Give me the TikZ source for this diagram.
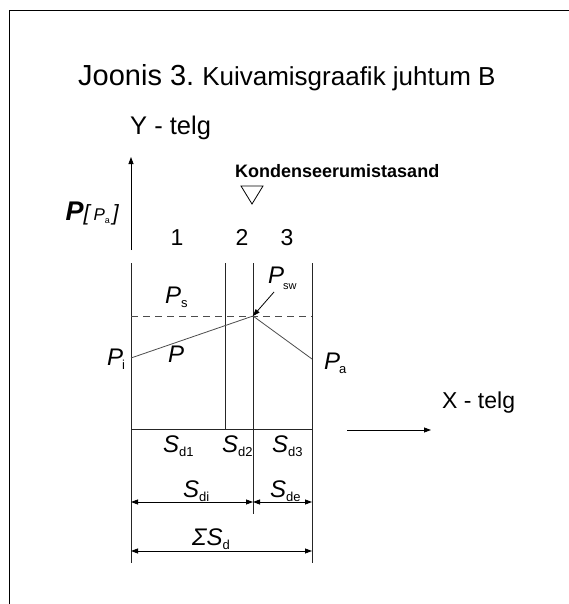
\documentclass[tikz,border=0pt]{standalone}
\usepackage{fontspec}
\setmainfont{Liberation Sans}
\usetikzlibrary{arrows.meta, positioning}
\newcommand\fsz[1]{\fontsize{#1}{#1}\selectfont}
\newcommand\lowidx[1]{\raisebox{-4.5pt}{\fsz{13}\upshape #1}}

\begin{document}
\begin{tikzpicture}[x=1pt, y=-1pt,
        wall/.style={line width=0.9pt, draw=black!85},
        thin/.style={line width=0.8pt, draw=black!70},
        arrow/.style={-{Triangle[length=7pt,width=5pt]}, line width=0.8pt},
        dim/.style={{Triangle[length=7pt,width=5pt]}-{Triangle[length=7pt,width=5pt]}, line width=0.8pt},
        lbl/.style={inner sep=0, anchor=base west},
        sym/.style={lbl, font=\fsz{24}\itshape},
        num/.style={inner sep=0, anchor=base, font=\fsz{23}}
    ]
        \useasboundingbox (0,0) rectangle (569,604);
        \draw[line width=1.4pt] (9.5,604) -- (9.5,10.5) -- (569,10.5);

        % texts
        \node[lbl] (title) at (78,86) {\fsz{29}Joonis 3.\hspace{8pt}\fsz{26}Kuivamisgraafik juhtum B};
        \node[lbl, font=\fsz{25.5}] (ytelg) at (130,135) {Y - telg};
        \node[lbl, font=\fsz{23}] (xtelg) at (442,408) {X - telg};
        \node[lbl, font=\fsz{18}\bfseries] (kond) at (235,177) {Kondenseerumistasand};
        \node[inner sep=0, anchor=base east, font=\itshape] (unit) at (119,220)
            {\fsz{27}\bfseries P\fsz{22}\mdseries[\,\fsz{17}P\raisebox{-3pt}{\fsz{9}\upshape a}\,\fsz{22}]};

        % axes and walls
        \coordinate (yb) at (131,250);
        \coordinate (yt) at (131,157);
        \coordinate (lt) at (131,263);
        \coordinate (lb) at (131,563);
        \coordinate (w2t) at (225,263);
        \coordinate (w2b) at (225,429);
        \coordinate (w3t) at (253,263);
        \coordinate (w3b) at (253,514);
        \coordinate (rt) at (312,263);
        \coordinate (rb) at (312,563);
        \coordinate (fl) at (131,429);
        \coordinate (fr) at (312,429);
        \coordinate (xa) at (347,430);
        \coordinate (xb) at (431,430);
        \draw[arrow] (yb) -- (yt);
        \draw[arrow] (xa) -- (xb);
        \draw[wall] (lt) -- (lb);
        \draw[wall] (w2t) -- (w2b);
        \draw[wall] (w3t) -- (w3b);
        \draw[wall] (rt) -- (rb);
        \draw[wall] (fl) -- (fr);

        % condensation plane mark
        \draw[line width=0.8pt] (241,186) -- (263,186) -- (252,204) -- cycle;

        \node[num] (n1) at (177,245) {1};
        \node[num] (n2) at (242,245) {2};
        \node[num] (n3) at (287,245) {3};

        % pressures
        \coordinate (sl) at (131,316);
        \coordinate (sr) at (312,316);
        \coordinate (pi) at (131,358);
        \coordinate (psw) at (253,316);
        \coordinate (pa) at (312,359);
        \draw[thin, dash pattern=on 7pt off 5pt] (sl) -- (sr);
        \draw[thin] (pi) -- (psw) -- (pa);

        \node[sym] (ps) at (165,303) {P\lowidx{s}};
        \node[sym] (p) at (168,362) {P};
        \node[sym] (pilbl) at (107,365) {P\kern-1pt\lowidx{i}};
        \node[sym] (palbl) at (324,369) {P\kern-1pt\lowidx{a}};
        \node[sym] (pswlbl) at (268,283) {P\kern-1pt\raisebox{-6pt}{\fsz{11}\upshape sw}};
        \coordinate (pswtail) at (274,292);
        \draw[arrow] (pswtail) -- (psw);

        % thicknesses
        \node[sym] (sd1) at (163,452) {S\lowidx{d1}};
        \node[sym] (sd2) at (222,452) {S\lowidx{d2}};
        \node[sym] (sd3) at (272,452) {S\lowidx{d3}};
        \node[sym] (sdi) at (183,497) {S\lowidx{di}};
        \node[sym] (sde) at (270,497) {S\lowidx{de}};
        \node[sym] (sum) at (192,545) {ΣS\lowidx{d}};

        \coordinate (di1) at (131,502);
        \coordinate (di2) at (253,502);
        \coordinate (de2) at (312,502);
        \coordinate (su1) at (131,551);
        \coordinate (su2) at (312,551);
        \draw[dim] (di1) -- (di2);
        \draw[dim] (di2) -- (de2);
        \draw[dim] (su1) -- (su2);
    \end{tikzpicture}
\end{document}
